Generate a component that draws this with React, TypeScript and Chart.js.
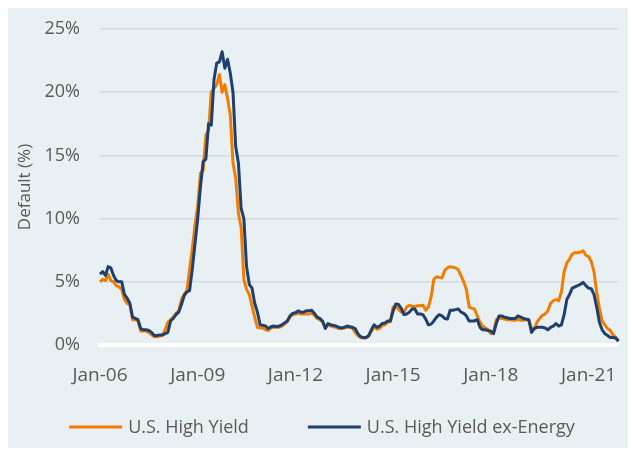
import React, { useEffect, useRef } from "react";
import { Chart, registerables } from "chart.js";

Chart.register(...registerables);

// ---- Data ----
const MONTH_NAMES = ["Jan", "Feb", "Mar", "Apr", "May", "Jun", "Jul", "Aug", "Sep", "Oct", "Nov", "Dec"];
const START_YEAR = 2006;
const MONTH_COUNT = 192; // Jan-06 .. Dec-21
const CATEGORIES: string[] = Array.from({ length: MONTH_COUNT }, (_, i) => {
  const yy = String((START_YEAR + Math.floor(i / 12)) % 100).padStart(2, "0");
  return `${MONTH_NAMES[i % 12]}-${yy}`;
});
const X_TICK_LABELS = ["Jan-06", "Jan-09", "Jan-12", "Jan-15", "Jan-18", "Jan-21"];
const Y_MIN = 0;
const Y_MAX = 25;
const Y_STEP = 5;

const SERIES_NAMES = ["U.S. High Yield", "U.S. High Yield ex-Energy"];

const US_HIGH_YIELD = [
  5.0, 5.2, 5.1, 5.6, 5.1, 5.0, 4.7, 4.6, 4.4, 3.6, 3.3, 3.2,
  2.0, 2.0, 1.9, 1.1, 1.1, 1.1, 1.0, 0.8, 0.65, 0.65, 0.7, 0.75,
  1.2, 1.8, 2.0, 2.2, 2.5, 2.7, 3.6, 4.0, 4.3, 6.0, 7.6, 9.5,
  11.0, 13.6, 13.8, 16.6, 17.0, 20.0, 20.3, 20.6, 21.4, 20.0, 20.6, 19.5,
  18.2, 14.4, 13.2, 10.4, 9.3, 5.2, 4.4, 4.0, 3.1, 2.2, 1.4, 1.35,
  1.35, 1.2, 1.15, 1.35, 1.4, 1.4, 1.4, 1.5, 1.65, 1.85, 2.2, 2.4,
  2.45, 2.5, 2.45, 2.45, 2.45, 2.45, 2.5, 2.35, 2.1, 2.0, 1.8, 1.4,
  1.6, 1.5, 1.45, 1.4, 1.3, 1.3, 1.35, 1.4, 1.4, 1.35, 1.0, 0.75,
  0.6, 0.55, 0.55, 0.7, 1.1, 1.45, 1.25, 1.3, 1.55, 1.6, 1.8, 1.85,
  3.0, 3.0, 2.85, 2.6, 2.6, 3.0, 3.15, 3.05, 3.05, 3.1, 3.1, 3.15,
  2.75, 3.0, 3.8, 5.2, 5.4, 5.35, 5.3, 5.9, 6.1, 6.2, 6.15, 6.1,
  5.95, 5.5, 5.0, 4.4, 3.0, 2.9, 2.85, 2.3, 1.8, 1.5, 1.35, 1.2,
  0.9, 1.0, 2.0, 2.15, 2.1, 2.05, 2.0, 2.0, 1.95, 1.95, 2.05, 1.95,
  1.95, 2.05, 1.9, 1.3, 1.3, 1.8, 2.1, 2.35, 2.45, 2.7, 3.3, 3.5,
  3.6, 3.5, 4.2, 5.8, 6.5, 6.8, 7.2, 7.3, 7.3, 7.35, 7.45, 7.1,
  7.0, 6.6, 5.8, 4.2, 2.9, 1.9, 1.6, 1.3, 1.15, 0.8, 0.6, 0.35,
];

const US_HIGH_YIELD_EX_ENERGY = [
  5.6, 5.8, 5.5, 6.2, 6.1, 5.5, 5.1, 5.0, 5.0, 4.0, 3.7, 3.3,
  2.2, 2.1, 2.0, 1.3, 1.2, 1.2, 1.15, 1.0, 0.75, 0.75, 0.8, 0.8,
  0.9, 1.0, 1.9, 2.1, 2.4, 2.6, 3.2, 3.9, 4.2, 4.3, 6.0, 8.0,
  10.0, 12.5, 14.5, 14.7, 17.5, 17.4, 21.0, 22.3, 22.4, 23.2, 21.9, 22.6,
  21.5, 20.0, 15.7, 14.4, 10.8, 10.0, 6.2, 4.8, 4.5, 3.3, 2.6, 1.6,
  1.55, 1.5, 1.3, 1.45, 1.5, 1.45, 1.5, 1.6, 1.75, 1.9, 2.3, 2.5,
  2.55, 2.7, 2.6, 2.6, 2.7, 2.7, 2.75, 2.5, 2.2, 2.1, 1.9, 1.3,
  1.7, 1.6, 1.55, 1.5, 1.4, 1.35, 1.4, 1.5, 1.45, 1.4, 1.3, 0.9,
  0.65, 0.6, 0.6, 0.75, 1.2, 1.6, 1.4, 1.5, 1.7, 1.75, 1.9, 1.9,
  2.7, 3.25, 3.2, 2.9, 2.4, 2.45, 2.6, 2.85, 2.85, 2.45, 2.45, 2.4,
  2.05, 1.6, 1.65, 1.9, 2.2, 2.4, 2.3, 2.1, 2.05, 2.75, 2.75, 2.8,
  2.85, 2.6, 2.5, 2.3, 1.9, 1.9, 1.9, 2.0, 1.4, 1.2, 1.2, 1.15,
  1.1, 0.9, 1.7, 2.3, 2.3, 2.2, 2.15, 2.1, 2.1, 2.1, 2.3, 2.2,
  2.1, 2.05, 2.0, 1.0, 1.3, 1.4, 1.4, 1.4, 1.35, 1.2, 1.4, 1.5,
  1.7, 1.5, 1.6, 2.4, 3.6, 4.0, 4.5, 4.6, 4.7, 4.8, 4.95, 4.7,
  4.5, 4.45, 4.0, 3.0, 1.8, 1.2, 0.9, 0.75, 0.6, 0.6, 0.55, 0.3,
];

// ---- Styles ----
const ORANGE = "#F07D00";
const NAVY = "#1F3F6E";
const TEXT = "#595959";
const GRID = "#D6D9DB";
const BG = "#E8F0F4";
const FONT = "'Open Sans', 'DejaVu Sans', sans-serif";

const legendPlugin = {
  id: "lineLegend",
  afterDraw(chart: any) {
    const ctx = chart.ctx as CanvasRenderingContext2D;
    const colors = [ORANGE, NAVY];
    const lineLen = 53;
    const gap = 6;
    const itemGap = 59;
    const y = 419;
    ctx.save();
    ctx.font = `18px ${FONT}`;
    const widths = SERIES_NAMES.map((t) => lineLen + gap + ctx.measureText(t).width);
    const total = widths.reduce((a, b) => a + b, 0) + itemGap * (SERIES_NAMES.length - 1);
    let x = (chart.width - total) / 2;
    SERIES_NAMES.forEach((name, i) => {
      ctx.strokeStyle = colors[i];
      ctx.lineWidth = 3;
      ctx.beginPath();
      ctx.moveTo(x, y);
      ctx.lineTo(x + lineLen, y);
      ctx.stroke();
      ctx.fillStyle = TEXT;
      ctx.textAlign = "left";
      ctx.textBaseline = "middle";
      ctx.fillText(name, x + lineLen + gap, y + 1);
      x += widths[i] + itemGap;
    });
    ctx.restore();
  },
};

export default function App() {
  const canvasRef = useRef<HTMLCanvasElement | null>(null);

  useEffect(() => {
    if (!canvasRef.current) return;
    const chart = new Chart(canvasRef.current, {
      type: "line",
      data: {
        labels: CATEGORIES,
        datasets: [
          {
            label: SERIES_NAMES[0],
            data: US_HIGH_YIELD,
            borderColor: ORANGE,
            backgroundColor: ORANGE,
            borderWidth: 3,
            pointRadius: 0,
            tension: 0,
            borderJoinStyle: "round",
            order: 2,
          },
          {
            label: SERIES_NAMES[1],
            data: US_HIGH_YIELD_EX_ENERGY,
            borderColor: NAVY,
            backgroundColor: NAVY,
            borderWidth: 3,
            pointRadius: 0,
            tension: 0,
            borderJoinStyle: "round",
            order: 1,
          },
        ],
      },
      options: {
        animation: false,
        responsive: false,
        maintainAspectRatio: false,
        layout: { padding: { left: 0, right: 15, top: 21, bottom: 0 } },
        plugins: {
          legend: { display: false },
          tooltip: { enabled: false },
        },
        scales: {
          x: {
            type: "category",
            offset: false,
            grid: { display: false, drawTicks: false },
            border: { display: true, color: "#FFFFFF", width: 4 },
            ticks: {
              autoSkip: false,
              maxRotation: 0,
              minRotation: 0,
              padding: 19,
              color: TEXT,
              font: { family: FONT, size: 19 },
              callback: (_v: any, i: number) =>
                X_TICK_LABELS.includes(CATEGORIES[i]) ? CATEGORIES[i] : null,
            },
            afterFit: (scale: any) => {
              scale.height = 103;
            },
          },
          y: {
            min: Y_MIN,
            max: Y_MAX,
            grid: {
              color: GRID,
              lineWidth: 1.5,
              drawTicks: true,
              tickLength: 18,
              tickColor: "rgba(0,0,0,0)",
            },
            border: { display: false },
            ticks: {
              stepSize: Y_STEP,
              padding: 2,
              color: TEXT,
              font: { family: FONT, size: 18 },
              callback: (v: any) => `${v}%`,
            },
            title: {
              display: true,
              text: "Default (%)",
              color: TEXT,
              font: { family: FONT, size: 17 },
              padding: { top: 7, bottom: 0 },
            },
            afterFit: (scale: any) => {
              scale.width = 92;
            },
          },
        },
      },
      plugins: [legendPlugin],
    });
    return () => chart.destroy();
  }, []);

  return (
    <div style={{ width: 628, height: 440, background: BG }}>
      <canvas ref={canvasRef} width={628} height={440} style={{ display: "block" }} />
    </div>
  );
}
